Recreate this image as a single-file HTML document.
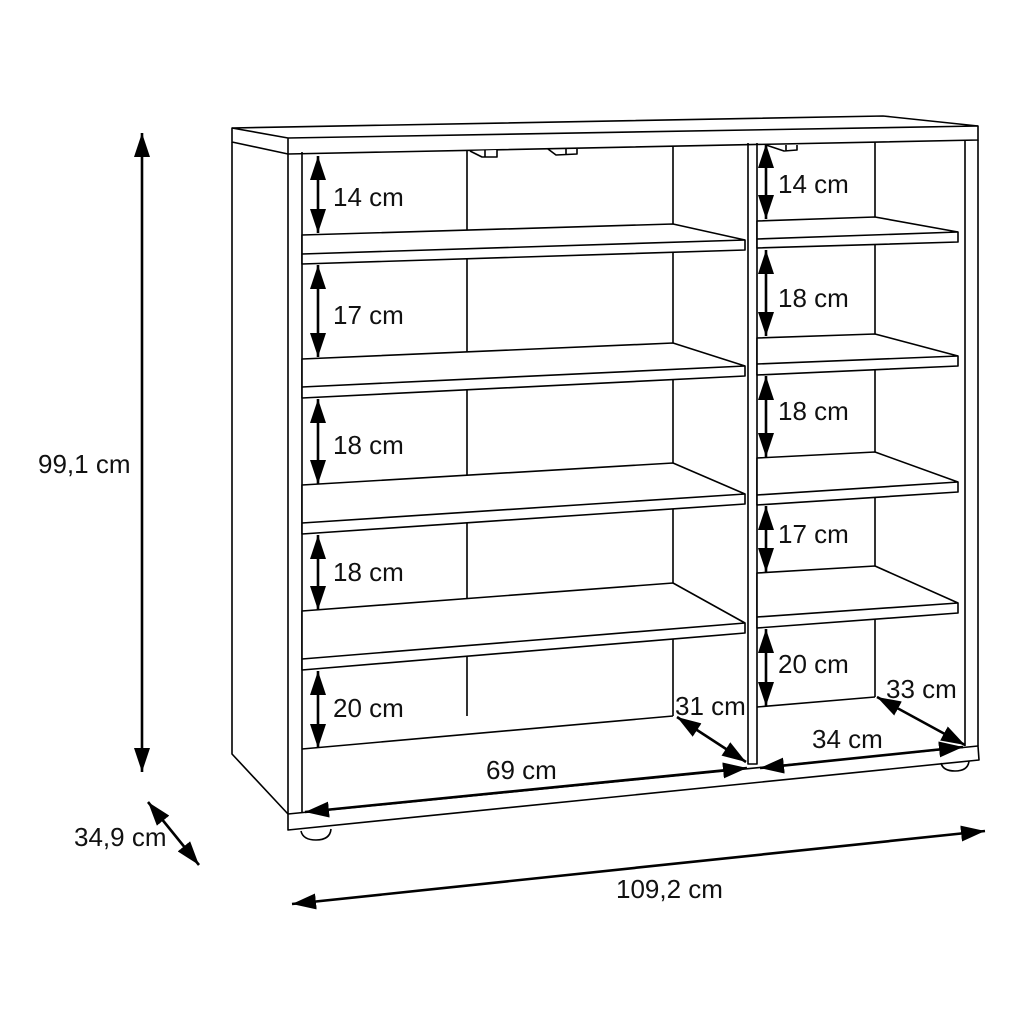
<!DOCTYPE html>
<html><head><meta charset="utf-8"><style>
html,body{margin:0;padding:0;background:#fff;}
svg{display:block}
text{font-family:"Liberation Sans",sans-serif;font-size:26px;fill:#111;}
</style></head><body>
<svg width="1024" height="1024" viewBox="0 0 1024 1024" xmlns="http://www.w3.org/2000/svg">
<defs>
<marker id="a" markerUnits="userSpaceOnUse" markerWidth="26" markerHeight="18" refX="24" refY="8" orient="auto-start-reverse">
<path d="M0,0 L24,8 L0,16 Z" fill="#000"/>
</marker>
</defs>
<g fill="none" stroke="#000" stroke-width="1.6" stroke-linejoin="round">
<path d="M232,128 L883,116 L978,126 L978,140 L288,154 L232,142 Z" fill="#fff"/>
<path d="M232,128 L288,138 L978,126 M288,138 L288,154"/>
<path d="M232,142 L232,754 L288,814"/>
<path d="M288,154 L288,814 M302,152 L302,812"/>
<path d="M965,140 L965,746 M978,140 L978,746"/>
<path d="M467,150 L467,716 M673,146 L673,716 M875,142 L875,697"/>
<path d="M748,143 L748,764 L757,764 L757,143"/>
<path d="M302,235 L673,224 L745,240 L745,250 L302,264 Z" fill="#fff"/><path d="M302,254 L745,240"/>
<path d="M302,359 L673,343 L745,366 L745,376 L302,398 Z" fill="#fff"/><path d="M302,387 L745,366"/>
<path d="M302,485 L673,463 L745,494 L745,504 L302,534 Z" fill="#fff"/><path d="M302,523 L745,494"/>
<path d="M302,611 L673,583 L745,623 L745,633 L302,670 Z" fill="#fff"/><path d="M302,659 L745,623"/>
<path d="M302,749 L673,716"/>
<path d="M757,221 L875,217 L958,232 L958,242 L757,248 Z" fill="#fff"/><path d="M757,239 L958,232"/>
<path d="M757,338 L875,334 L958,356 L958,366 L757,375 Z" fill="#fff"/><path d="M757,364 L958,356"/>
<path d="M757,458 L875,452 L958,482 L958,492 L757,505 Z" fill="#fff"/><path d="M757,495 L958,482"/>
<path d="M757,573 L875,566 L958,603 L958,613 L757,628 Z" fill="#fff"/><path d="M757,617 L958,603"/>
<path d="M757,707 L875,697"/>
<path d="M288,814 L978,746 L979,760 L288,830 Z" fill="#fff"/>
<path d="M301,831 Q303,840 316,840 Q330,840 331,829" />
<path d="M941,763 Q943,771 955,771 Q968,771 969,761" />
<path d="M470,151 L482,157 L497,157 L497,150 M485,150 L485,157" fill="#fff"/>
<path d="M548,149 L556,155 L577,154 L577,149 M566,149 L566,155"/>
<path d="M766,145 L784,151 L797,150 L797,145 M786,145 L786,151"/>
</g>
<g stroke="#000" stroke-width="2.6" marker-start="url(#a)" marker-end="url(#a)">
<line x1="318" y1="156" x2="318" y2="233"/>
<line x1="318" y1="265" x2="318" y2="357"/>
<line x1="318" y1="399" x2="318" y2="484"/>
<line x1="318" y1="535" x2="318" y2="610"/>
<line x1="318" y1="671" x2="318" y2="748"/>
<line x1="766" y1="144" x2="766" y2="219"/>
<line x1="766" y1="250" x2="766" y2="336"/>
<line x1="766" y1="376" x2="766" y2="457"/>
<line x1="766" y1="506" x2="766" y2="572"/>
<line x1="766" y1="629" x2="766" y2="706"/>
<line x1="677" y1="717" x2="746" y2="762"/>
<line x1="877" y1="697" x2="965" y2="745"/>
<line x1="760" y1="768" x2="963" y2="747"/>
<line x1="142" y1="133" x2="142" y2="772"/>
<line x1="148" y1="802" x2="199" y2="865"/>
<line x1="292" y1="904" x2="985" y2="831"/>
<line x1="305" y1="812" x2="747" y2="768"/>
</g>
<text x="333" y="206">14 cm</text>
<text x="333" y="324">17 cm</text>
<text x="333" y="454">18 cm</text>
<text x="333" y="581">18 cm</text>
<text x="333" y="717">20 cm</text>
<text x="778" y="193">14 cm</text>
<text x="778" y="307">18 cm</text>
<text x="778" y="420">18 cm</text>
<text x="778" y="543">17 cm</text>
<text x="778" y="673">20 cm</text>
<text x="675" y="715">31 cm</text>
<text x="886" y="698">33 cm</text>
<text x="812" y="748">34 cm</text>
<text x="486" y="779">69 cm</text>
<text x="38" y="473">99,1 cm</text>
<text x="74" y="846">34,9 cm</text>
<text x="616" y="898">109,2 cm</text>
</svg>
</body></html>
